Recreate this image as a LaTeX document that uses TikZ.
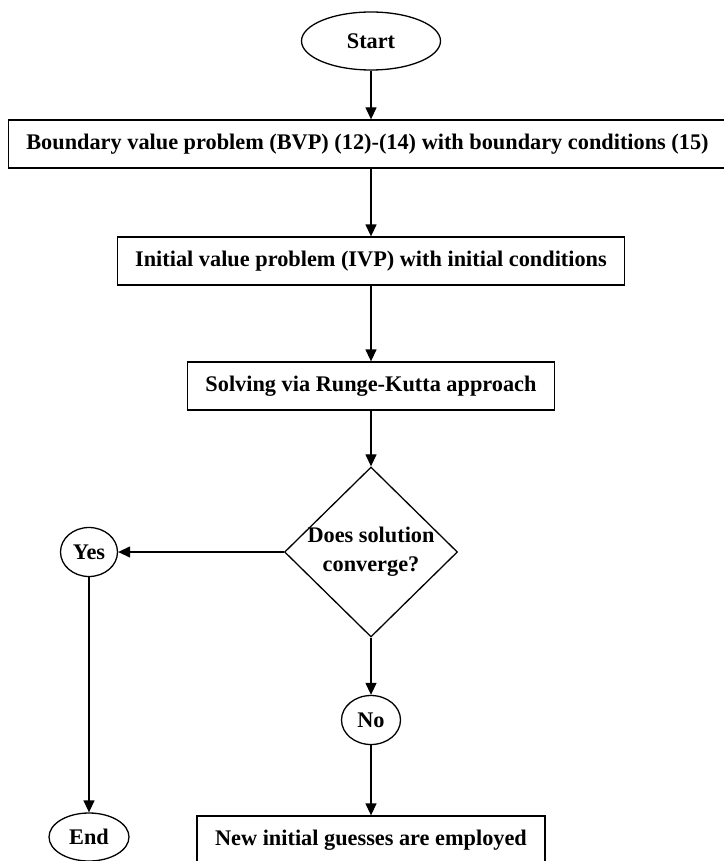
\documentclass[tikz,border=0pt]{standalone}
\usepackage{fontspec}
\setmainfont{Liberation Serif}
\usetikzlibrary{arrows.meta, positioning, shapes.geometric}

\begin{document}
\begin{tikzpicture}[x=1pt, y=-1pt, >={Triangle[length=12pt, width=11pt]},
    line width=1.3pt,
    every node/.style={font=\fontsize{22.3}{29}\selectfont\bfseries},
    box/.style={draw, rectangle, minimum height=48pt, inner xsep=18pt, inner ysep=0pt},
    oval/.style={draw, ellipse, inner sep=0pt},
    decision/.style={draw, diamond, minimum width=173pt, minimum height=170pt,
                     inner sep=-6pt, align=center}]
  \useasboundingbox (0,0) rectangle (723,861);

  % Main column
  \node[oval, minimum width=139pt, minimum height=58pt] (start) at (371, 41) {Start};
  \node[box] (bvp) at (367.5, 144)
    {Boundary value problem (BVP) (12)-(14) with boundary conditions (15)};
  \node[box] (ivp) at (371, 261) {Initial value problem (IVP) with initial conditions};
  \node[box] (rk) at (371, 386) {Solving via Runge-Kutta approach};
  \node[decision] (conv) at (371, 552) {Does solution\\converge?};

  % Answers
  \node[oval, minimum width=57pt, minimum height=49pt] (yes) at (89, 552) {Yes};
  \node[oval, minimum width=80pt, minimum height=48pt] (end) at (89, 837) {End};
  \node[oval, minimum width=59pt, minimum height=49pt] (no) at (371, 720) {No};
  \node[box] (new) at (371, 840) {New initial guesses are employed};

  % Connectors
  \draw[->] (start) -- (start |- bvp.north);
  \draw[->] (bvp.south -| start) -- (ivp);
  \draw[->] (ivp) -- (rk);
  \draw[->] (rk) -- (conv);
  \draw[->] (conv) -- (yes);
  \draw[->] (yes) -- (end);
  \draw[->] (conv) -- (no);
  \draw[->] (no) -- (new);
\end{tikzpicture}
\end{document}
